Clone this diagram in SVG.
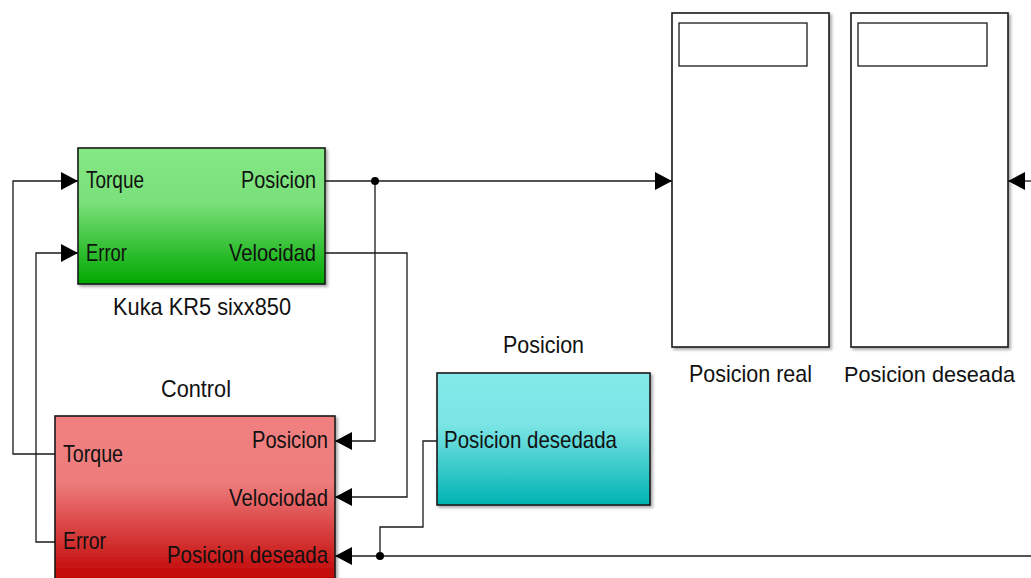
<svg xmlns="http://www.w3.org/2000/svg" width="1031" height="578" viewBox="0 0 1031 578">
  <defs>
    <linearGradient id="gGreen" x1="0" y1="0" x2="0" y2="1">
      <stop offset="0" stop-color="#84e884"/>
      <stop offset="0.4" stop-color="#7ae07a"/>
      <stop offset="1" stop-color="#00a800"/>
    </linearGradient>
    <linearGradient id="gRed" x1="0" y1="0" x2="0" y2="1">
      <stop offset="0" stop-color="#f08080"/>
      <stop offset="0.4" stop-color="#ee7c7c"/>
      <stop offset="1" stop-color="#c00000"/>
    </linearGradient>
    <linearGradient id="gCyan" x1="0" y1="0" x2="0" y2="1">
      <stop offset="0" stop-color="#84eaea"/>
      <stop offset="0.4" stop-color="#7ae4e4"/>
      <stop offset="1" stop-color="#00b2b2"/>
    </linearGradient>
    <filter id="shadow" x="-5%" y="-5%" width="115%" height="115%">
      <feDropShadow dx="2" dy="2" stdDeviation="1.5" flood-color="#000" flood-opacity="0.35"/>
    </filter>
    <marker id="arrow" markerUnits="userSpaceOnUse" markerWidth="18" markerHeight="20" refX="17" refY="10" orient="auto">
      <path d="M0,1 L17,10 L0,19 z" fill="#000"/>
    </marker>
  </defs>
  <style>
    .blk { stroke: #1a1a1a; stroke-width: 1.6; filter: url(#shadow); }
    .scope { fill: #fff; stroke: #1a1a1a; stroke-width: 1.6; filter: url(#shadow); }
    .screen { fill: #fff; stroke: #1a1a1a; stroke-width: 1.3; }
    .wire { fill: none; stroke: #1a1a1a; stroke-width: 1.3; }
    .dot { fill: #000; }
    text { font-family: "Liberation Sans", Arial, sans-serif; font-size: 24px; fill: #111; }
    .small { font-size: 22px; }
  </style>

  <rect width="1031" height="578" fill="#fff"/>

  <!-- signal lines -->
  <g id="connectors">
    <path class="wire" d="M55,454 H13 V181 H78" marker-end="url(#arrow)"/>
    <path class="wire" d="M55,542 H36 V253 H78" marker-end="url(#arrow)"/>
    <path class="wire" d="M325,181 H672" marker-end="url(#arrow)"/>
    <path class="wire" d="M375,181 V441 H335" marker-end="url(#arrow)"/>
    <path class="wire" d="M325,253 H407 V497 H335" marker-end="url(#arrow)"/>
    <path class="wire" d="M1031,556 H335" marker-end="url(#arrow)"/>
    <path class="wire" d="M437,441 H423 V527 H380 V556"/>
    <path class="wire" d="M1031,181 H1008" marker-end="url(#arrow)"/>
    <circle class="dot" cx="375" cy="181" r="4"/>
    <circle class="dot" cx="380" cy="556" r="4"/>
  </g>

  <!-- robot plant -->
  <g id="kuka">
    <rect class="blk" x="78" y="148" width="247" height="136" fill="url(#gGreen)"/>
    <text x="86" y="188" textLength="58" lengthAdjust="spacingAndGlyphs">Torque</text>
    <text x="86" y="261" textLength="41" lengthAdjust="spacingAndGlyphs">Error</text>
    <text x="241" y="188" textLength="75" lengthAdjust="spacingAndGlyphs">Posicion</text>
    <text x="229" y="261" textLength="87" lengthAdjust="spacingAndGlyphs">Velocidad</text>
    <text x="113" y="315" textLength="178" lengthAdjust="spacingAndGlyphs">Kuka KR5 sixx850</text>
  </g>

  <!-- controller -->
  <g id="control">
    <text x="161" y="397" textLength="70" lengthAdjust="spacingAndGlyphs">Control</text>
    <rect class="blk" x="55" y="416" width="280" height="166" fill="url(#gRed)"/>
    <text x="63" y="462" textLength="60" lengthAdjust="spacingAndGlyphs">Torque</text>
    <text x="63" y="549" textLength="43" lengthAdjust="spacingAndGlyphs">Error</text>
    <text x="252" y="448" textLength="76" lengthAdjust="spacingAndGlyphs">Posicion</text>
    <text x="229" y="506" textLength="99" lengthAdjust="spacingAndGlyphs">Velociodad</text>
    <text x="167" y="563" textLength="161" lengthAdjust="spacingAndGlyphs">Posicion deseada</text>
  </g>

  <!-- reference position -->
  <g id="posicion">
    <text x="503" y="353" textLength="81" lengthAdjust="spacingAndGlyphs">Posicion</text>
    <rect class="blk" x="437" y="373" width="213" height="132" fill="url(#gCyan)"/>
    <text x="444" y="448" textLength="173" lengthAdjust="spacingAndGlyphs">Posicion desedada</text>
  </g>

  <!-- scopes -->
  <g id="scope-real">
    <rect class="scope" x="672" y="13" width="157" height="334"/>
    <rect class="screen" x="679" y="23" width="128" height="43"/>
    <text x="689" y="382" textLength="123" lengthAdjust="spacingAndGlyphs">Posicion real</text>
  </g>
  <g id="scope-deseada">
    <rect class="scope" x="851" y="13" width="157" height="334"/>
    <rect class="screen" x="858" y="23" width="129" height="43"/>
    <text class="small" x="844" y="382" textLength="171" lengthAdjust="spacingAndGlyphs">Posicion deseada</text>
  </g>
</svg>
